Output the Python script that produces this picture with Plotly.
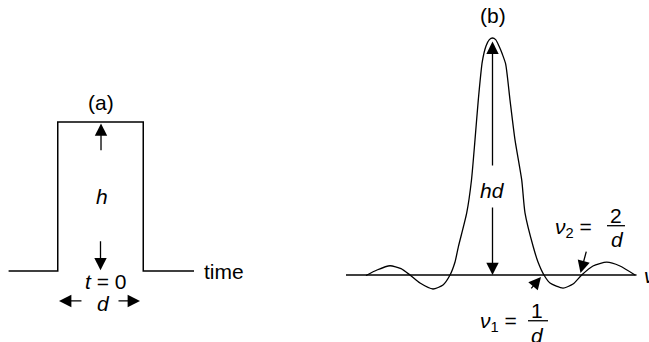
import plotly.graph_objects as go

# ---------------- data ----------------
# Panel (a): rectangular pulse of height h and width d (units: t in d, amplitude in h)
pulse_t = [-1.075, -0.5, -0.5, 0.5, 0.5, 1.094]
pulse_a = [0, 0, 1, 1, 0, 0]

# Panel (b): its spectrum (units: nu in 1/d, amplitude in hd)
spec_nu = [-2.811, -2.567, -2.278, -2.033, -1.833, -1.611, -1.322, -1.100, -0.944,
           -0.833, -0.760, -0.573, -0.467, -0.389, -0.316, -0.227, -0.144,
           -0.070, 0.000, 0.070, 0.144, 0.222, 0.293, 0.389, 0.500, 0.649, 0.722,
           0.907, 1.011, 1.144, 1.278, 1.567, 1.789, 1.982, 2.233, 2.538, 2.833, 3.167]
spec_amp = [-0.002, 0.021, 0.039, 0.027, 0.000, -0.034, -0.059, -0.042, 0.000,
            0.055, 0.118, 0.262, 0.401, 0.570, 0.738, 0.900, 0.966,
            0.993, 1.000, 0.993, 0.966, 0.930, 0.890, 0.738, 0.570, 0.401, 0.262,
            0.118, 0.055, 0.000, -0.034, -0.055, -0.038, 0.000, 0.038, 0.054, 0.038, 0.000]
axis_nu = [-3.256, 3.2]
axis_amp = [0, 0]

# marked zeros of the spectrum
nu1 = 1.0
nu2 = 2.0

# ---------------- figure ----------------
W, H = 649, 342
FONT = "Liberation Sans, Arial, Helvetica, sans-serif"
FS = 21
BLACK = "#000000"

fig = go.Figure()
fig.add_trace(go.Scatter(x=pulse_t, y=pulse_a, mode="lines",
                         line=dict(color=BLACK, width=1.5), xaxis="x", yaxis="y",
                         hoverinfo="skip"))
fig.add_trace(go.Scatter(x=axis_nu, y=axis_amp, mode="lines",
                         line=dict(color=BLACK, width=1.4), xaxis="x2", yaxis="y2",
                         hoverinfo="skip"))
fig.add_trace(go.Scatter(x=spec_nu, y=spec_amp, mode="lines",
                         line=dict(color=BLACK, width=1.3, shape="spline", smoothing=0.6),
                         xaxis="x2", yaxis="y2", hoverinfo="skip"))

# pixel mapping of the two panels (layout only)
ax_px, ax_scale = 100.5, 85.5      # t = 0 position, pixels per d
ay_px, ay_scale = 271.0, 149.0     # baseline position, pixels per h
bx_px, bx_scale = 492.5, 45.0      # nu = 0 position, pixels per 1/d
by_px, by_scale = 275.0, 237.0     # baseline position, pixels per hd

hidden = dict(visible=False, showgrid=False, zeroline=False, fixedrange=True)
fig.update_layout(
    width=W, height=H, margin=dict(l=0, r=0, t=0, b=0),
    paper_bgcolor="white", plot_bgcolor="white", showlegend=False,
    font=dict(family=FONT, size=FS, color=BLACK),
    xaxis=dict(range=[(0 - ax_px) / ax_scale, (W - ax_px) / ax_scale], domain=[0, 1], **hidden),
    yaxis=dict(range=[(ay_px - H) / ay_scale, ay_px / ay_scale], domain=[0, 1], **hidden),
    xaxis2=dict(range=[(0 - bx_px) / bx_scale, (W - bx_px) / bx_scale], domain=[0, 1],
                overlaying="x", **hidden),
    yaxis2=dict(range=[(by_px - H) / by_scale, by_px / by_scale], domain=[0, 1],
                overlaying="y", anchor="x2", **hidden),
)


def text(x, y, s, axes=("x", "y"), xanchor="center", yanchor="middle", size=FS):
    fig.add_annotation(x=x, y=y, xref=axes[0], yref=axes[1], text=s, showarrow=False,
                       xanchor=xanchor, yanchor=yanchor, font=dict(size=size))


def arrow(x0, y0, x1, y1, axes=("x", "y")):
    fig.add_annotation(x=x1, y=y1, ax=x0, ay=y0, xref=axes[0], yref=axes[1],
                       axref=axes[0], ayref=axes[1], text="", showarrow=True,
                       arrowhead=2, arrowsize=1.9, arrowwidth=1.3, arrowcolor=BLACK,
                       standoff=0, startstandoff=0)


# ---- panel (a) ----
text(0, 1.128, "(a)")
text(0.012, 0.50, "<i>h</i>")
arrow(0.006, 0.80, 0.006, 0.99)
arrow(0.0, 0.21, 0.0, 0.005)
text(0.064, -0.072, "<i>t</i> = 0")
text(0.035, -0.216, "<i>d</i>")
arrow(-0.205, -0.201, -0.485, -0.201)
arrow(0.193, -0.201, 0.462, -0.201)
text(1.187, 0.0, "time", xanchor="left")

# ---- panel (b) ----
B = ("x2", "y2")
text(0, 1.097, "(b)", axes=B)
text(0, 0.358, "<i>hd</i>", axes=B)
arrow(0, 0.456, 0, 0.985, axes=B)
arrow(0, 0.291, 0, 0.0, axes=B)

# nu2 = 2/d
text(2.256, 0.20, "<i>ν</i><sub>2</sub> =", axes=B, xanchor="right")
text(2.744, 0.253, "2", axes=B)
text(2.778, 0.150, "<i>d</i>", axes=B)
fig.add_shape(type="line", xref="x2", yref="y2", x0=2.544, x1=2.944, y0=0.208, y1=0.208,
              line=dict(color=BLACK, width=1.3))
arrow(2.093, 0.105, nu2 - 0.044, 0.008, axes=B)

# nu1 = 1/d
text(0.589, -0.198, "<i>ν</i><sub>1</sub> =", axes=B, xanchor="right")
text(0.989, -0.148, "1", axes=B)
text(1.0, -0.255, "<i>d</i>", axes=B)
fig.add_shape(type="line", xref="x2", yref="y2", x0=0.789, x1=1.233, y0=-0.193, y1=-0.193,
              line=dict(color=BLACK, width=1.3))
arrow(0.833, -0.063, nu1 + 0.078, -0.008, axes=B)

# frequency axis label (clipped at the right edge)
text(3.322, -0.004, "<i>ν</i>", axes=B, xanchor="left")

fig.write_html("out.html", config={"displayModeBar": False, "staticPlot": True},
               post_script="document.body.style.margin='0';document.body.style.overflow='hidden';")
